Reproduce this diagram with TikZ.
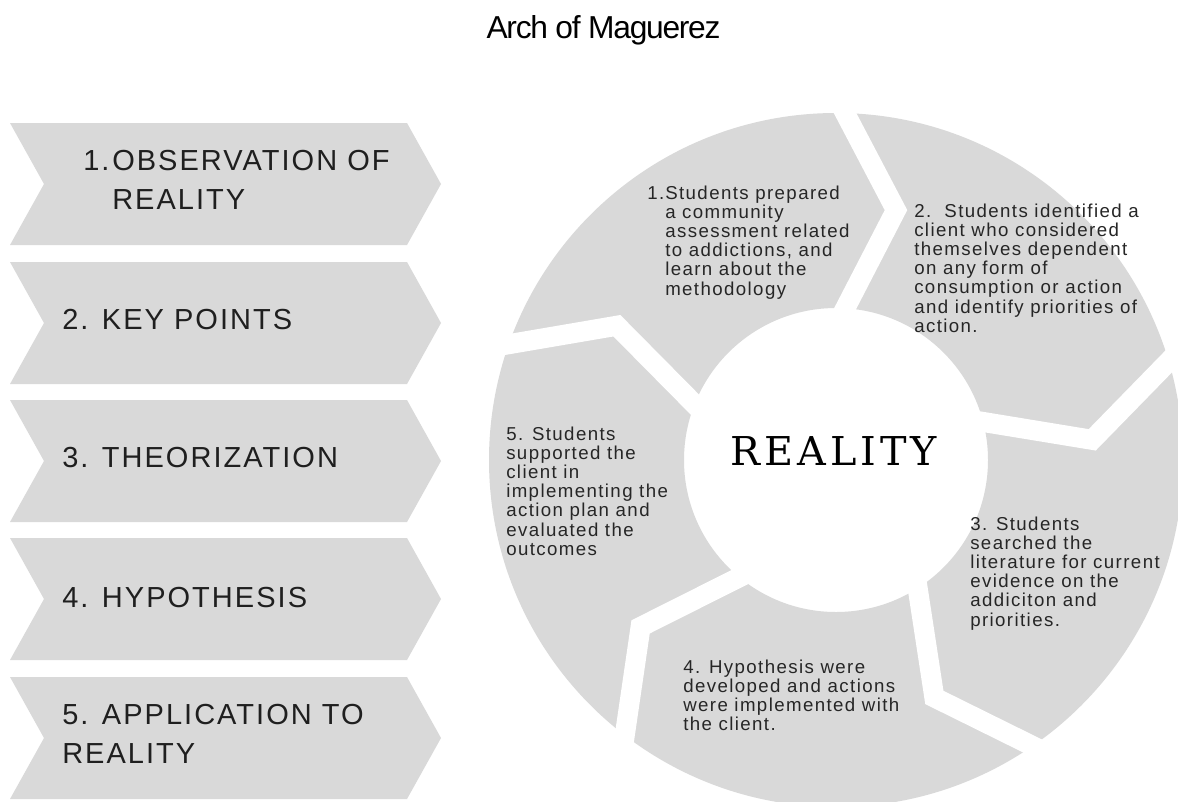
\documentclass[tikz,border=0pt]{standalone}
\usepackage{fontspec}
\setmainfont{Liberation Sans}
\newfontfamily\segfont[LetterSpace=7.5]{Liberation Sans}
\newfontfamily\chevfont[LetterSpace=7]{Liberation Sans}
\newfontfamily\titlefont[LetterSpace=-4]{Liberation Sans}
\newfontfamily\realfont[LetterSpace=10]{DejaVu Serif}
\usetikzlibrary{calc}
\definecolor{segray}{HTML}{D9D9D9}
\begin{document}
\begin{tikzpicture}[x=0.75pt,y=0.75pt,
  chevtext/.style={anchor=base west, inner sep=0, font=\chevfont\fontsize{21.75}{29.25}\selectfont, text=black!88},
  segtext/.style={anchor=base west, inner sep=0, font=\segfont\fontsize{14}{14.4}\selectfont, text=black!85},
  gapline/.style={draw=white, line width=15pt, line join=miter}]
\useasboundingbox (0,0) rectangle (1178,-801);
\clip (0,0) rectangle (1178,-801);
\fill[white] (0,0) rectangle (1178,-801);

% title
\node[anchor=base, inner sep=0, font=\titlefont\fontsize{23.8}{28}\selectfont] (title) at (603.5,-38) {Arch of Maguerez};

% chevrons
\foreach \t in {123,262,400,538,677} {
  \fill[segray] (10,-\t) -- (407,-\t) -- (441,-\t-61) -- (407,-\t-122) -- (10,-\t-122) -- (44,-\t-61) -- cycle;
}
\node[chevtext] (c1n) at (83,-170) {1.};
\node[chevtext] (c1) at (112,-170) {\parbox[t]{300pt}{OBSERVATION OF\\REALITY}};
\node[chevtext] (c2) at (62,-329) {2. KEY POINTS};
\node[chevtext] (c3) at (62,-467) {3. THEORIZATION};
\node[chevtext] (c4) at (62,-607) {4. HYPOTHESIS};
\node[chevtext] (c5) at (62,-724) {\parbox[t]{340pt}{5. APPLICATION TO\\REALITY}};

% ring
\coordinate (c) at (836,-460);
\fill[segray, even odd rule] (c) circle (347) (c) circle (152);
\foreach \b in {88.5,16.5,-55.5,-127.5,160.5} {
  \coordinate (O) at ($(c)+(\b:347)$);
  \coordinate (T) at ($(c)+(\b-12:257)$);
  \coordinate (I) at ($(c)+(\b-2:152)$);
  \draw[gapline] ($(T)!1.4!(O)$) -- (T) -- ($(T)!1.3!(I)$);
}

\node[anchor=base, inner sep=0, font=\realfont\fontsize{29.8}{36}\selectfont] (reality) at (834,-465) {REALITY};

% segment texts
\node[segtext] (s1n) at (647,-199) {1.};
\node[segtext] (s1) at (665,-199) {\parbox[t]{200pt}{Students prepared\\a community\\assessment related\\to addictions, and\\learn about the\\methodology}};
\node[segtext] (s2) at (914,-217) {\parbox[t]{250pt}{2.\ \ Students identified a\\client who considered\\themselves dependent\\on any form of\\consumption or action\\and identify priorities of\\action.}};
\node[segtext] (s3) at (970,-530) {\parbox[t]{200pt}{3. Students\\searched the\\literature for current\\evidence on the\\addiciton and\\priorities.}};
\node[segtext] (s4) at (683,-673) {\parbox[t]{220pt}{4. Hypothesis were\\developed and actions\\were implemented with\\the client.}};
\node[segtext] (s5) at (506,-440) {\parbox[t]{200pt}{5. Students\\supported the\\client in\\implementing the\\action plan and\\evaluated the\\outcomes}};
\end{tikzpicture}
\end{document}
